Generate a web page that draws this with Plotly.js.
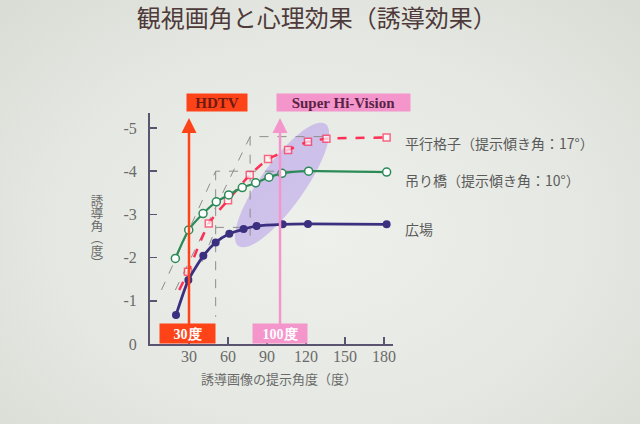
<!DOCTYPE html>
<html><head><meta charset="utf-8">
<script src="https://cdn.plot.ly/plotly-3.0.1.min.js"></script>
<style>
html,body{margin:0;padding:0;width:640px;height:424px;overflow:hidden;
background:radial-gradient(ellipse at 50% 55%, #eef0eb 0%, #e5e8e2 60%, #d8dcd4 100%);}
#chart{width:640px;height:424px;}
</style></head><body><div id="chart"></div>
<script>
// ---- data ----
const titleText = "観視画角と心理効果（誘導効果）";
const xTitle = "誘導画像の提示角度（度）";
const yTitle = "誘導角（度）";

const xTickVals = [30, 60, 90, 120, 150, 180];
const xTickText = ["30", "60", "90", "120", "150", "180"];
const yTickVals = [0, -1, -2, -3, -4, -5];
const yTickText = ["0", "-1", "-2", "-3", "-4", "-5"];

// 広場
const plazaName = "広場";
const plazaX = [20, 29.5, 41, 50.5, 61, 72, 82, 102, 121.5, 182];
const plazaY = [-0.67, -1.48, -2.04, -2.35, -2.55, -2.66, -2.73, -2.77, -2.78, -2.77];
// 吊り橋
const bridgeName = "吊り橋（提示傾き角：10°）";
const bridgeX = [19.5, 29.8, 40.8, 51, 60.5, 71, 81.3, 91.5, 101.5, 122, 182];
const bridgeY = [-1.98, -2.64, -3.02, -3.29, -3.45, -3.62, -3.73, -3.86, -3.95, -4.0, -3.98];
// 平行格子
const gridName = "平行格子（提示傾き角：17°）";
const gridX = [22.5, 29.2, 45.2, 60, 76.7, 90.8, 106.2, 121.5, 135.7, 182];
const gridY = [-1.25, -1.67, -2.79, -3.33, -3.91, -4.28, -4.49, -4.68, -4.75, -4.78];
const gridMarkerShown = [0, 1, 1, 1, 1, 1, 1, 1, 1, 1];

// gray dashed guide lines
const guideAX = [8.8, 50.5, 115, null, 50.5, 50.5];
const guideAY = [-1.25, -4.0, -4.0, null, -4.0, -0.63];
const guideBX = [19.5, 77, 136, null, 77, 77];
const guideBY = [-1.25, -4.8, -4.8, null, -4.8, -2.4];
const guideCX = [40, 51, 85];
const guideCY = [-1.9, -2.7, -2.7];

// display-size markers
const hdtvAngle = 30, shvAngle = 100;
const hdtvLabel = "HDTV", shvLabel = "Super Hi-Vision";
const hdtvDeg = "30度", shvDeg = "100度";

// ---- drawing ----
const redC = "#ff4318", pinkC = "#f496cc";
const gridSizes = gridMarkerShown.map(v => v ? 7 : 0);

const traces = [
  {x: guideAX, y: guideAY, mode: "lines", line: {color: "#8c8c8c", width: 1, dash: "dash"}, hoverinfo: "skip", connectgaps: false},
  {x: guideBX, y: guideBY, mode: "lines", line: {color: "#8c8c8c", width: 1, dash: "dash"}, hoverinfo: "skip", connectgaps: false},
  {x: guideCX, y: guideCY, mode: "lines", line: {color: "#8c8c8c", width: 1, dash: "dash"}, hoverinfo: "skip"},
  {name: gridName, x: gridX, y: gridY, mode: "lines+markers",
   line: {color: "#ff2f55", width: 2.5, dash: "dash", shape: "spline", smoothing: 0.6},
   marker: {symbol: "square", size: gridSizes, color: "#ffffff", line: {color: "#ff2f55", width: 1.5}}},
  {name: bridgeName, x: bridgeX, y: bridgeY, mode: "lines+markers",
   line: {color: "#2b8a57", width: 2.2, shape: "spline", smoothing: 0.6},
   marker: {symbol: "circle", size: 8, color: "#ffffff", line: {color: "#2b8a57", width: 1.5}}},
  {name: plazaName, x: plazaX, y: plazaY, mode: "lines+markers",
   line: {color: "#3b2f80", width: 2.8, shape: "spline", smoothing: 0.6},
   marker: {symbol: "circle", size: 8, color: "#3b2f80"}}
];

// plot geometry
const L = 150, T = 113, W = 243, H = 231;
const xMax = 186.9, yMax = 5.347;
const pxPerX = W / xMax, pxPerY = H / yMax;
const py2paper = py => (T + H - py) / H;
const px2paper = px => (px - L) / W;

// tilted ellipse (decoration) built in pixel space, converted to data
function ellipsePath() {
  const cx = 282, cy = 185, a = 75, b = 22;
  const ux = 0.581, uy = -0.814, vx = 0.814, vy = 0.581;
  let p = "";
  for (let i = 0; i <= 60; i++) {
    const t = i / 60 * 2 * Math.PI;
    const px = cx + a * Math.cos(t) * ux + b * Math.sin(t) * vx;
    const py = cy + a * Math.cos(t) * uy + b * Math.sin(t) * vy;
    const dx = (px - L) / pxPerX;
    const dy = -((T + H) - py) / pxPerY;
    p += (i === 0 ? "M" : "L") + dx.toFixed(3) + "," + dy.toFixed(4);
  }
  return p + "Z";
}

const cjk = "Noto Sans CJK JP, Noto Sans, sans-serif";
const serif = "Liberation Serif, DejaVu Serif, serif";
const labelFont = {family: cjk, size: 14, color: "#5a5a5a"};

const annotations = [
  // arrows
  {x: hdtvAngle, y: -5.23, ax: hdtvAngle, ay: 0, xref: "x", yref: "y", axref: "x", ayref: "y",
   text: "", showarrow: true, arrowhead: 2, arrowsize: 1.2, arrowwidth: 2.5, arrowcolor: redC},
  {x: shvAngle, y: -5.23, ax: shvAngle, ay: 0, xref: "x", yref: "y", axref: "x", ayref: "y",
   text: "", showarrow: true, arrowhead: 2, arrowsize: 1.2, arrowwidth: 2.5, arrowcolor: pinkC},
  // top boxes
  {xref: "paper", yref: "paper", x: px2paper(217), y: py2paper(103), xanchor: "center", yanchor: "middle",
   text: "<b>" + hdtvLabel + "</b>", showarrow: false, bgcolor: redC, width: 60, height: 17, borderpad: 0,
   font: {family: serif, size: 15, color: "#6e1a12"}},
  {xref: "paper", yref: "paper", x: px2paper(343.4), y: py2paper(103), xanchor: "center", yanchor: "middle",
   text: "<b>" + shvLabel + "</b>", showarrow: false, bgcolor: pinkC, width: 133, height: 17, borderpad: 0,
   font: {family: serif, size: 15, color: "#5a2244"}},
  // bottom boxes
  {xref: "paper", yref: "paper", x: px2paper(187), y: py2paper(333), xanchor: "center", yanchor: "middle",
   text: "<b>" + hdtvDeg + "</b>", showarrow: false, bgcolor: redC, width: 55, height: 19, borderpad: 0,
   font: {family: serif, size: 14, color: "#ffffff"}},
  {xref: "paper", yref: "paper", x: px2paper(279.5), y: py2paper(333), xanchor: "center", yanchor: "middle",
   text: "<b>" + shvDeg + "</b>", showarrow: false, bgcolor: pinkC, width: 54, height: 19, borderpad: 0,
   font: {family: serif, size: 14, color: "#ffffff"}},
  // series labels
  {xref: "paper", yref: "y", x: px2paper(403), y: gridY[gridY.length - 1], yshift: -5, xanchor: "left", yanchor: "middle",
   text: gridName, showarrow: false, font: labelFont},
  {xref: "paper", yref: "y", x: px2paper(403), y: bridgeY[bridgeY.length - 1], yshift: -8, xanchor: "left", yanchor: "middle",
   text: bridgeName, showarrow: false, font: labelFont},
  {xref: "paper", yref: "y", x: px2paper(403), y: plazaY[plazaY.length - 1], yshift: -5, xanchor: "left", yanchor: "middle",
   text: plazaName, showarrow: false, font: labelFont},
  // x title
  {xref: "paper", yref: "paper", x: px2paper(279), y: py2paper(378), xanchor: "center", yanchor: "middle",
   text: xTitle, showarrow: false, font: {family: cjk, size: 13, color: "#6a6a6a"}}
];

const layout = {
  width: 640, height: 424,
  paper_bgcolor: "rgba(0,0,0,0)", plot_bgcolor: "rgba(0,0,0,0)",
  margin: {l: L, r: 640 - L - W, t: T, b: 424 - T - H, pad: 0},
  showlegend: false,
  title: {text: titleText, x: 0.495, xanchor: "center", y: 0.956, yanchor: "middle",
          font: {family: cjk, size: 24, color: "#4e3a3a"}},
  xaxis: {range: [0, xMax], showgrid: false, zeroline: false, showline: true, linecolor: "#5a5470", linewidth: 2,
          ticks: "inside", ticklen: 7, tickwidth: 1.5, tickcolor: "#5a5470",
          tickvals: xTickVals, ticktext: xTickText, ticklabelstandoff: -3,
          tickfont: {family: serif, size: 16, color: "#6a6a6a"}},
  yaxis: {range: [0, -yMax], showgrid: false, zeroline: false, showline: true, linecolor: "#5a5470", linewidth: 2,
          ticks: "inside", ticklen: 7, tickwidth: 1.5, tickcolor: "#5a5470",
          tickvals: yTickVals, ticktext: yTickText, ticklabelstandoff: 8,
          tickfont: {family: serif, size: 16, color: "#6a6a6a"}},
  shapes: [
    {type: "path", xref: "x", yref: "y", path: ellipsePath(), fillcolor: "rgba(165,130,235,0.42)",
     line: {width: 0}, layer: "below"}
  ],
  annotations: annotations
};

Plotly.newPlot("chart", traces, layout, {displayModeBar: false, staticPlot: true}).then(gd => {
  // vertical (tategaki) y-axis title as one SVG text element
  const svgNS = "http://www.w3.org/2000/svg";
  const layer = gd.querySelector(".infolayer");
  const t = document.createElementNS(svgNS, "text");
  t.setAttribute("x", 97);
  t.setAttribute("y", 232);
  t.setAttribute("text-anchor", "middle");
  t.setAttribute("style", "writing-mode: vertical-rl; text-orientation: mixed; font-family: 'Noto Sans CJK JP', sans-serif; font-size: 12.5px; fill: #6a6a6a;");
  t.textContent = yTitle;
  layer.appendChild(t);
});
</script></body></html>
